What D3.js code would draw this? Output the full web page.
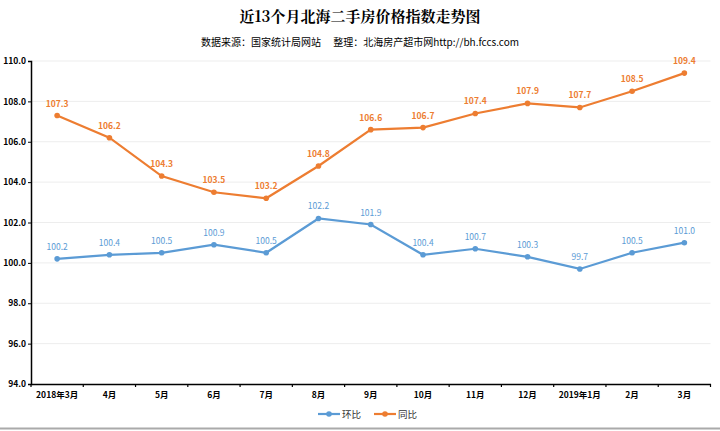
<!DOCTYPE html>
<html><head><meta charset="utf-8">
<script src="https://cdn.jsdelivr.net/npm/d3@7/dist/d3.min.js"></script>
<style>body{margin:0;background:#fff}svg{display:block}</style>
</head><body><svg id="c" width="720" height="431"></svg>
<script>
const categories = ["2018年3月","4月","5月","6月","7月","8月","9月","10月","11月","12月","2019年1月","2月","3月"];
const huanbi = [100.2,100.4,100.5,100.9,100.5,102.2,101.9,100.4,100.7,100.3,99.7,100.5,101.0];
const tongbi = [107.3,106.2,104.3,103.5,103.2,104.8,106.6,106.7,107.4,107.9,107.7,108.5,109.4];
const yTicks = [94,96,98,100,102,104,106,108,110];
const seriesNames = ["环比","同比"];
const colors = ["#5b9bd5","#ed7d31"];

(function(){
const svg = d3.select("#c");
const mLeft = 31, mRight = 710.5, mTop = 61, mBottom = 384;
const x = d3.scaleBand().domain(categories).range([mLeft, mRight]);
const y = d3.scaleLinear().domain([94,110]).range([mBottom, mTop]);
const font = "'Noto Sans CJK SC', 'Noto Sans', sans-serif";

svg.append("text").attr("x",360).attr("y",22).attr("text-anchor","middle")
  .attr("font-family","'Noto Serif CJK SC','Noto Sans CJK SC',serif").attr("font-weight","bold")
  .attr("font-size",15).attr("fill","#000").text("近13个月北海二手房价格指数走势图");
svg.append("text").attr("x",360).attr("y",46).attr("text-anchor","middle")
  .attr("font-family",font).attr("font-size",10).attr("fill","#000")
  .text("数据来源：国家统计局网站　 整理：北海房产超市网http://bh.fccs.com");

// gridlines
svg.append("g").selectAll("line").data(yTicks.slice(1)).join("line")
  .attr("x1",mLeft).attr("x2",mRight).attr("y1",d=>y(d)).attr("y2",d=>y(d))
  .attr("stroke","#ededed").attr("stroke-width",1);

// y axis
const ya = svg.append("g").attr("transform",`translate(${mLeft},0)`)
  .call(d3.axisLeft(y).tickValues(yTicks).tickFormat(d3.format(".1f")).tickSize(3));
ya.select(".domain").attr("stroke","#000").attr("stroke-width",1.5);
ya.selectAll(".tick line").attr("stroke","#000");
ya.selectAll("text").attr("font-family",font).attr("font-size",8.5).attr("font-weight","bold").attr("fill","#000").attr("dx",1);

// x axis
const xa = svg.append("g").attr("transform",`translate(0,${mBottom})`)
  .call(d3.axisBottom(x).tickSize(0).tickPadding(8));
xa.select(".domain").attr("stroke","#000").attr("stroke-width",1.5);
xa.selectAll("text").attr("font-family",font).attr("font-size",8.5).attr("font-weight","bold").attr("fill","#000");
const bounds = categories.map(c=>x(c)).concat([mRight]);
svg.append("g").selectAll("line").data(bounds).join("line")
  .attr("x1",d=>d).attr("x2",d=>d).attr("y1",mBottom).attr("y2",mBottom+3)
  .attr("stroke","#000").attr("stroke-width",1.2);

const cx = c => x(c) + x.bandwidth()/2;
[huanbi, tongbi].forEach((vals,i)=>{
  const g = svg.append("g");
  const line = d3.line().x((d,j)=>cx(categories[j])).y(d=>y(d));
  g.append("path").datum(vals).attr("d",line).attr("fill","none")
    .attr("stroke",colors[i]).attr("stroke-width",2.2);
  g.selectAll("circle").data(vals).join("circle")
    .attr("cx",(d,j)=>cx(categories[j])).attr("cy",d=>y(d)).attr("r",2.8).attr("fill",colors[i]);
  g.selectAll("text").data(vals).join("text")
    .attr("x",(d,j)=>cx(categories[j])).attr("y",d=>y(d)-9).attr("text-anchor","middle")
    .attr("font-family",font).attr("font-size",8.5).attr("font-weight",i===1?"bold":"normal").attr("fill",colors[i])
    .text(d=>d.toFixed(1));
});

// legend
const lg = svg.append("g").attr("transform","translate(318,414)");
[[0,0],[1,56]].forEach(([i,dx])=>{
  lg.append("line").attr("x1",dx).attr("x2",dx+22).attr("y1",0).attr("y2",0).attr("stroke",colors[i]).attr("stroke-width",2.2);
  lg.append("circle").attr("cx",dx+11).attr("cy",0).attr("r",2.8).attr("fill",colors[i]);
  lg.append("text").attr("x",dx+24).attr("y",3.5).attr("font-family",font).attr("font-size",9.5).attr("fill","#333").text(seriesNames[i]);
});

svg.append("line").attr("x1",0).attr("x2",720).attr("y1",428.5).attr("y2",428.5).attr("stroke","#aaa").attr("stroke-width",2);
})();
</script></body></html>
